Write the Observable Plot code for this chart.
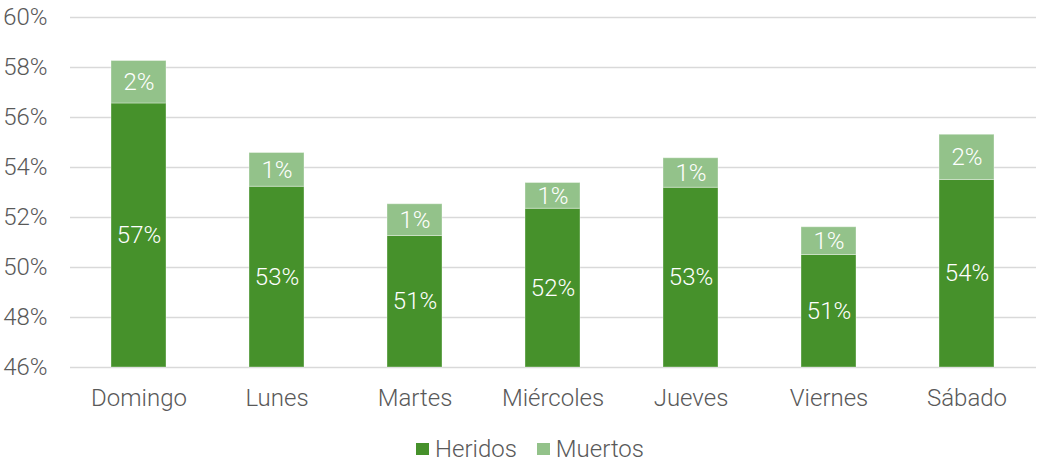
<!DOCTYPE html>
<html>
<head>
<meta charset="utf-8">
<script src="https://cdn.jsdelivr.net/npm/d3@7"></script>
<script src="https://cdn.jsdelivr.net/npm/@observablehq/plot@0.6"></script>
<style>
  html, body { margin: 0; padding: 0; background: #fff; }
  body { width: 1038px; height: 462px; overflow: hidden; font-family: Roboto, "Noto Sans", sans-serif; font-weight: 300; }
  #legend { height: 42px; display: flex; justify-content: center; align-items: center; gap: 20px; color: #595959; font-size: 24px; padding-top: 16px; padding-left: 22px; box-sizing: border-box; }
  #legend .item { display: flex; align-items: center; gap: 6px; }
  #legend .sw { width: 13px; height: 12px; display: inline-block; }
</style>
</head>
<body>
<div id="chart"></div>
<div id="legend"></div>
<script>
const days = ["Domingo", "Lunes", "Martes", "Miércoles", "Jueves", "Viernes", "Sábado"];
const heridos = [56.56, 53.23, 51.26, 52.35, 53.19, 50.5, 53.5];
const muertos = [1.70, 1.35, 1.27, 1.03, 1.18, 1.11, 1.81];
const yTicks = [46, 48, 50, 52, 54, 56, 58, 60];
const series = ["Heridos", "Muertos"];
const colors = ["#46912b", "#93c28a"];
const yBase = 46;

const rows = [];
days.forEach((d, i) => {
  rows.push({day: d, serie: "Heridos", y1: yBase, y2: heridos[i], label: Math.round(heridos[i]) + "%"});
  rows.push({day: d, serie: "Muertos", y1: heridos[i], y2: heridos[i] + muertos[i], label: Math.round(muertos[i]) + "%"});
});

const chart = Plot.plot({
  width: 1038,
  height: 420,
  marginTop: 17,
  marginBottom: 53,
  marginLeft: 70,
  marginRight: 2,
  style: {fontFamily: "Roboto, 'Noto Sans', sans-serif", fontSize: "24px", color: "#595959", fontWeight: 300, background: "#fff"},
  x: {domain: days, paddingInner: 0.6, paddingOuter: 0.3, label: null},
  y: {domain: [46, 60], label: null},
  color: {domain: series, range: colors},
  marks: [
    Plot.gridY(yTicks, {stroke: "#d9d9d9", strokeOpacity: 1, strokeWidth: 1.3}),
    Plot.axisY(yTicks, {tickSize: 0, tickPadding: 23, tickFormat: d => d + "%", fill: "#595959", fontSize: 24, label: null}),
    Plot.axisX({tickSize: 0, tickPadding: 21, fill: "#595959", fontSize: 24, label: null}),
    Plot.barY(rows, {x: "day", y1: "y1", y2: "y2", fill: "serie", stroke: "#ffffff", strokeOpacity: 0.35, strokeWidth: 1}),
    Plot.text(rows, {x: "day", y: d => (d.y1 + d.y2) / 2, text: "label", fill: "#ffffff", fontSize: 24, fontWeight: 300})
  ]
});
document.getElementById("chart").appendChild(chart);

const legend = document.getElementById("legend");
series.forEach((s, i) => {
  const item = document.createElement("span");
  item.className = "item";
  const sw = document.createElement("span");
  sw.className = "sw";
  sw.style.background = colors[i];
  const t = document.createElement("span");
  t.textContent = s;
  item.appendChild(sw);
  item.appendChild(t);
  legend.appendChild(item);
});
</script>
</body>
</html>
